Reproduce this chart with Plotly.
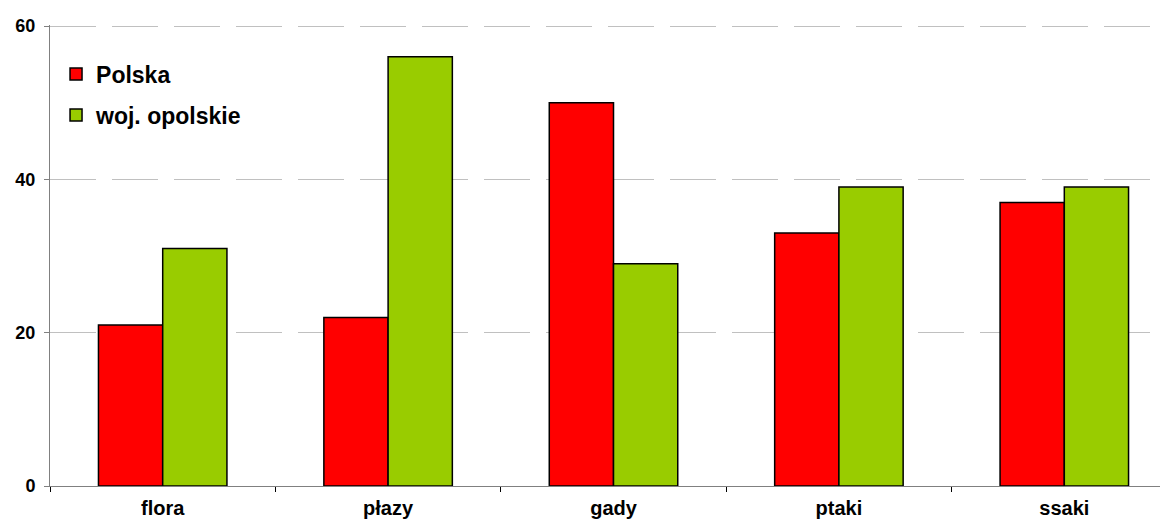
import plotly.graph_objects as go

categories = ["flora", "płazy", "gady", "ptaki", "ssaki"]
polska = [21, 22, 50, 33, 37]
opolskie = [31, 56, 29, 39, 39]
series_names = ["Polska", "woj. opolskie"]
y_ticks = [0, 20, 40, 60]

font_family = "Liberation Sans, Arial, sans-serif"

fig = go.Figure()
fig.add_trace(go.Bar(x=categories, y=polska, name=series_names[0], legendgroup="a",
                     marker=dict(color="#ff0000", line=dict(color="#000000", width=1.5))))
fig.add_trace(go.Bar(x=categories, y=opolskie, name=series_names[1], legendgroup="b",
                     marker=dict(color="#99cc00", line=dict(color="#000000", width=1.5))))

fig.update_layout(
    width=1168, height=525,
    margin=dict(l=42, r=8, t=17, b=47),
    paper_bgcolor="white", plot_bgcolor="white",
    barmode="group", bargap=0.43, bargroupgap=0,
    font=dict(family=font_family, color="black"),
    showlegend=True,
    legend=dict(x=0.0054, y=0.94, xanchor="left", yanchor="top",
                font=dict(size=23, family=font_family, weight="bold"),
                bgcolor="rgba(0,0,0,0)", tracegroupgap=8, itemwidth=30),
    xaxis=dict(range=[-0.5, 4.46], showgrid=False, showline=True, automargin=False,
               linecolor="#808080", linewidth=1, ticks="outside", ticklen=5,
               tickcolor="#000000", tickson="boundaries", ticklabelstandoff=4,
               tickfont=dict(size=20, family=font_family, weight="bold"),
               zeroline=False),
    yaxis=dict(range=[0, 60.15], tickvals=y_ticks, showgrid=True, automargin=False,
               gridcolor="#c0c0c0", griddash="46px,16px", gridwidth=1,
               showline=True, linecolor="#808080", linewidth=1,
               ticks="outside", ticklen=5, tickcolor="#808080", ticklabelstandoff=5,
               tickfont=dict(size=18, family=font_family, weight="bold"),
               zeroline=False),
)

fig.write_html("out.html")
